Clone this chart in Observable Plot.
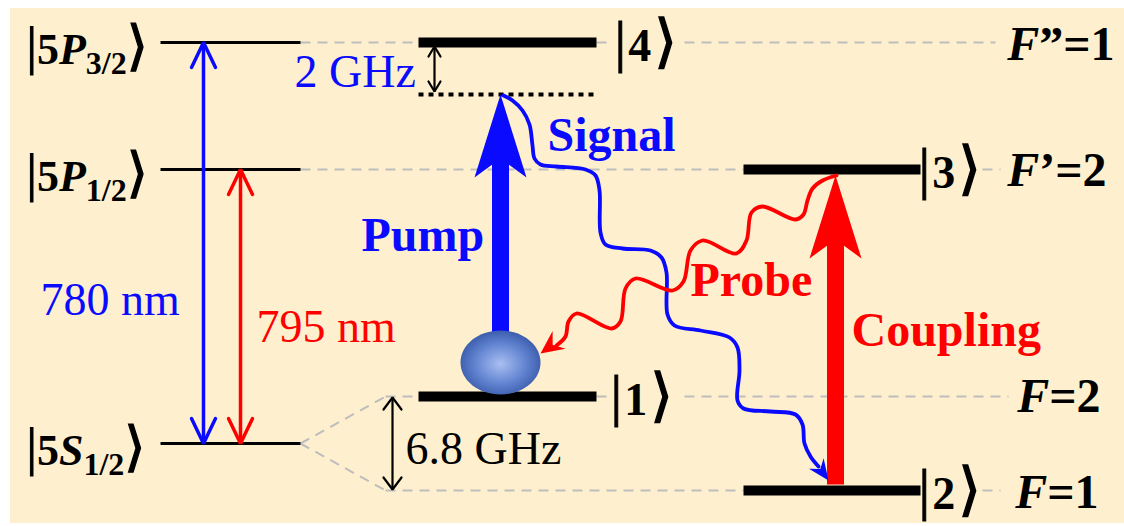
<!DOCTYPE html>
<html><head><meta charset="utf-8">
<script src="https://cdn.jsdelivr.net/npm/d3@7"></script>
<script src="https://cdn.jsdelivr.net/npm/@observablehq/plot@0.6"></script>
<style>html,body{margin:0;padding:0;background:#fff;overflow:hidden} svg{display:block}</style>
</head><body><div id="chart"></div>
<script>
// ---------- diagram data (diagram units: x across, y = energy position from top) ----------
const panel = [{x1: 10, x2: 1124, y1: 8, y2: 523}];

const fineLevels = [
  {term: "5P", j: "3/2", y: 42},
  {term: "5P", j: "1/2", y: 169},
  {term: "5S", j: "1/2", y: 443}
];
const fineX = {x1: 160, x2: 300, label: 26};

const states = [
  {id: "4", y: 42,  x1: 418, x2: 596, lx: 614},
  {id: "3", y: 169, x1: 743, x2: 920, lx: 918},
  {id: "1", y: 396, x1: 418, x2: 596, lx: 610},
  {id: "2", y: 490, x1: 743, x2: 920, lx: 918}
];

const hyperfine = [
  {f: "F”=1", y: 44,  x: 1114},
  {f: "F’=2", y: 170, x: 1106},
  {f: "F=2",  y: 396, x: 1100},
  {f: "F=1",  y: 492, x: 1098}
];

const virtualLevel = [{x1: 418, x2: 594, y: 94}];

const guideSegments = [
  {x1: 300, y1: 42,  x2: 418, y2: 42},
  {x1: 596, y1: 42,  x2: 612, y2: 42},
  {x1: 684, y1: 42,  x2: 995, y2: 42},
  {x1: 300, y1: 169, x2: 743, y2: 169},
  {x1: 982, y1: 169, x2: 1000, y2: 169},
  {x1: 385, y1: 396, x2: 418, y2: 396},
  {x1: 596, y1: 396, x2: 608, y2: 396},
  {x1: 684, y1: 396, x2: 1008, y2: 396},
  {x1: 385, y1: 490, x2: 743, y2: 490},
  {x1: 982, y1: 490, x2: 1000, y2: 490},
  {x1: 300, y1: 443, x2: 385, y2: 396},
  {x1: 300, y1: 443, x2: 385, y2: 490}
];

const doubleArrows = [
  {name: "780", x: 203, y1: 42,  y2: 443, color: "#0a0aff"},
  {name: "795", x: 240, y1: 169, y2: 443, color: "#ff0000"},
  {name: "2GHz", x: 434, y1: 46,  y2: 91,  color: "#000"},
  {name: "6.8GHz", x: 392, y1: 397, y2: 489, color: "#000"}
];

const beams = [
  {name: "Pump",     x: 500, y1: 333, y2: 94,  color: "#0a0aff"},
  {name: "Coupling", x: 835, y1: 484, y2: 175, color: "#ff0000"}
];

const signalPath = [
  [503,95],[512,100],[522,110],[529,124],[532,145],[534,158],[540,164],[556,166],
  [585,169],[595,175],[599,190],[600,232],[605,244],[622,248],[650,250],[661,257],
  [666,272],[667,314],[674,325],[700,330],[729,337],[737,347],[739,370],[737,400],
  [743,408],[770,411],[795,414],[802,424],[804,443],[810,456],[818,466]
];
const probePath = [
  [836,175],[822,180],[812,188],[807,200],[803,214],[795,219],[762,206],[751,212],
  [746,240],[736,253],[702,240],[690,250],[683,281],[672,290],[635,278],[625,288],
  [620,321],[611,328],[576,313],[568,321],[565,336],[556,345]
];
const signalTip = [828, 480];
const probeTip = [540, 353];

const ball = [{x: 500, y: 362}];

const freqLabels = [
  {t: "2 GHz",   x: 294, y: 72,  c: "#0a0aff"},
  {t: "6.8 GHz", x: 405, y: 449, c: "#000"},
  {t: "780 nm",  x: 40,  y: 300, c: "#0a0aff"},
  {t: "795 nm",  x: 256, y: 327, c: "#ff0000"}
];
const beamLabels = [
  {t: "Pump",     x: 361, y: 235, c: "#0a0aff"},
  {t: "Signal",   x: 547, y: 135, c: "#0a0aff"},
  {t: "Probe",    x: 690, y: 280, c: "#ff0000"},
  {t: "Coupling", x: 851, y: 330, c: "#ff0000"}
];

// ---------- helpers: arrowheads computed from arrow geometry ----------
function headPoints(tip, from, L, W, N, id) {
  const dx = tip[0] - from[0], dy = tip[1] - from[1];
  const len = Math.hypot(dx, dy), ux = dx / len, uy = dy / len;
  const px = -uy, py = ux;
  const bx = tip[0] - L * ux, by = tip[1] - L * uy;
  const pts = N == null
    ? [[bx + W * px, by + W * py], tip, [bx - W * px, by - W * py]]
    : [tip, [bx + W * px, by + W * py], [tip[0] - N * ux, tip[1] - N * uy], [bx - W * px, by - W * py], tip];
  return pts.map(([x, y]) => ({x, y, id}));
}
const isBig = name => name === "780" || name === "795";
const openHeads = doubleArrows.flatMap(a => {
  const big = isBig(a.name);
  const L = big ? 25 : (a.name === "2GHz" ? 10 : 12);
  const Wd = big ? 12 : (a.name === "2GHz" ? 6 : 9);
  const sw = big ? 3.5 : 2.2;
  return [
    ...headPoints([a.x, a.y1], [a.x, a.y2], L, Wd, null, a.name + "top").map(p => ({...p, color: a.color, sw})),
    ...headPoints([a.x, a.y2], [a.x, a.y1], L, Wd, null, a.name + "bot").map(p => ({...p, color: a.color, sw}))
  ];
});
const beamHeads = beams.flatMap(b =>
  headPoints([b.x, b.y2], [b.x, b.y1], 83, 26, 64, b.name).map(p => ({...p, color: b.color})));
const beamShafts = beams.map(b => ({...b, ytop: b.y2 + 62}));
const wavyHeads = [
  ...headPoints(signalTip, signalPath[signalPath.length - 1], 21, 9, 14, "sig").map(p => ({...p, color: "#0a0aff"})),
  ...headPoints(probeTip, [562, 337], 23, 11, 15, "pro").map(p => ({...p, color: "#ff0000"}))
];
const sig = signalPath.map(([x, y]) => ({x, y}));
const pro = probePath.map(([x, y]) => ({x, y}));

// ellipse symbol for the atom
const ellipseSymbol = {
  draw(ctx, size) {
    const r = Math.sqrt(size / Math.PI), ry = r, rx = r * 1.25, k = 0.5523;
    ctx.moveTo(rx, 0);
    ctx.bezierCurveTo(rx, k * ry, k * rx, ry, 0, ry);
    ctx.bezierCurveTo(-k * rx, ry, -rx, k * ry, -rx, 0);
    ctx.bezierCurveTo(-rx, -k * ry, -k * rx, -ry, 0, -ry);
    ctx.bezierCurveTo(k * rx, -ry, rx, -k * ry, rx, 0);
    ctx.closePath();
  }
};

const serif = "'Liberation Serif', 'Times New Roman', 'DejaVu Serif', serif";

const svg = Plot.plot({
  width: 1124, height: 526, margin: 0,
  x: {domain: [0, 1124], axis: null},
  y: {domain: [0, 526], reverse: true, axis: null},
  style: {background: "#fff", overflow: "visible"},
  marks: [
    Plot.rect(panel, {x1: "x1", x2: "x2", y1: "y1", y2: "y2", fill: "#FEF0CE"}),
    Plot.link(guideSegments, {x1: "x1", y1: "y1", x2: "x2", y2: "y2", stroke: "#bdbdbd", strokeWidth: 2, strokeDasharray: "10,7"}),
    Plot.link(fineLevels, {x1: fineX.x1, x2: fineX.x2, y1: "y", y2: "y", stroke: "#000", strokeWidth: 3}),
    Plot.link(states, {x1: "x1", x2: "x2", y1: "y", y2: "y", stroke: "#000", strokeWidth: 10}),
    Plot.link(virtualLevel, {x1: "x1", x2: "x2", y1: "y", y2: "y", stroke: "#000", strokeWidth: 4, strokeDasharray: "5,5"}),
    // double-headed transitions
    Plot.link(doubleArrows, {x1: "x", x2: "x", y1: "y1", y2: "y2", stroke: "color", strokeWidth: d => isBig(d.name) ? 3.5 : 2.2}),
    Plot.line(openHeads, {x: "x", y: "y", z: "id", stroke: "color", strokeWidth: "sw", strokeLinejoin: "miter"}),
    // thick beams
    Plot.link(beamShafts, {x1: "x", x2: "x", y1: "y1", y2: "ytop", stroke: "color", strokeWidth: 17}),
    Plot.line(beamHeads, {x: "x", y: "y", z: "id", fill: "color", stroke: "none"}),
    // wavy photons
    Plot.line(sig, {x: "x", y: "y", curve: "catmull-rom", stroke: "#0a0aff", strokeWidth: 3.8}),
    Plot.line(pro, {x: "x", y: "y", curve: "catmull-rom", stroke: "#ff0000", strokeWidth: 3.8}),
    Plot.line(wavyHeads, {x: "x", y: "y", z: "id", fill: "color", stroke: "none"}),
    // atom
    Plot.dot(ball, {x: "x", y: "y", r: 32, symbol: ellipseSymbol, fill: "url(#ballGrad)", stroke: "none"}),
    // labels
    Plot.text(fineLevels, {x: fineX.label, y: d => d.y + 7, text: d => `|${d.term}${d.j}⟩`, textAnchor: "start", fontFamily: serif, fontWeight: "bold", fontSize: 44, fill: "#000", className: "finelab"}),
    Plot.text(states, {x: "lx", y: d => d.y + 4, text: d => `|${d.id}⟩`, textAnchor: "start", fontFamily: serif, fontWeight: "bold", fontSize: 46, fill: "#000", className: "statelab"}),
    Plot.text(hyperfine, {x: "x", y: "y", text: "f", textAnchor: "end", fontFamily: serif, fontWeight: "bold", fontSize: 48, fill: "#000", className: "hflab"}),
    Plot.text(freqLabels, {x: "x", y: "y", text: "t", textAnchor: "start", fontFamily: serif, fontSize: 46, fill: "c"}),
    Plot.text(beamLabels, {x: "x", y: "y", text: "t", textAnchor: "start", fontFamily: serif, fontWeight: "bold", fontSize: 48, fill: "c"})
  ]
});

// gradient for the atom
d3.select(svg).insert("defs", ":first-child").html(
  `<radialGradient id="ballGrad" cx="50%" cy="52%" r="55%">
     <stop offset="0" stop-color="#aabff2"/>
     <stop offset="0.55" stop-color="#6586d2"/>
     <stop offset="1" stop-color="#3658a8"/>
   </radialGradient>`);

// rich formatting: italic term letter, subscript J, tall medium-weight brackets
function bracket(t, size) {
  return t.append("tspan").attr("font-size", size).attr("font-weight", "normal")
    .attr("stroke", "#000").attr("stroke-width", 1.3);
}
d3.select(svg).selectAll("g.finelab text").each(function(_, i) {
  const d = fineLevels[i];
  const t = d3.select(this).text("");
  t.append("tspan").attr("font-size", 52).attr("font-weight", "normal").attr("stroke", "#000").attr("stroke-width", 1).text("|");
  t.append("tspan").text(d.term[0]);
  t.append("tspan").attr("font-style", "italic").text(d.term.slice(1));
  t.append("tspan").attr("font-size", 32).attr("dy", 10).text(d.j);
  bracket(t, 54).attr("dy", -10).text("⟩");
});
d3.select(svg).selectAll("g.statelab text").each(function(_, i) {
  const d = states[i];
  const t = d3.select(this).text("");
  t.append("tspan").attr("font-size", 58).attr("font-weight", "normal").attr("stroke", "#000").attr("stroke-width", 1).text("|");
  t.append("tspan").attr("dx", 2).text(d.id);
  bracket(t, 58).attr("dx", 3).text("⟩");
});
d3.select(svg).selectAll("g.hflab text").each(function(_, i) {
  const d = hyperfine[i];
  const t = d3.select(this).text("");
  t.append("tspan").attr("font-style", "italic").text("F");
  t.append("tspan").text(d.f.slice(1));
});

document.getElementById("chart").appendChild(svg);
</script></body></html>
